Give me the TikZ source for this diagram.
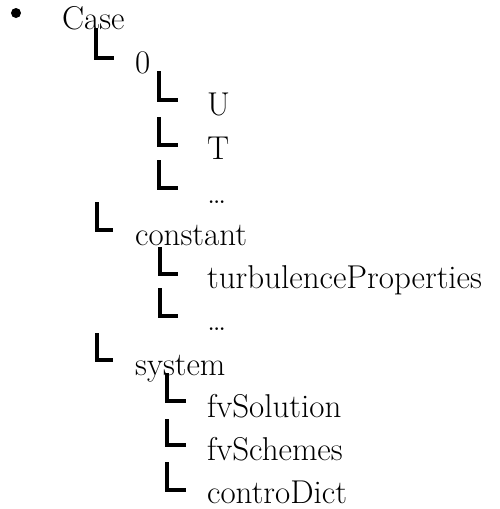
\documentclass[tikz,border=0pt]{standalone}
\usepackage{fontspec}
\tikzset{
  lbl/.style={anchor=base west, inner sep=0pt, font=\fontsize{33}{40}\selectfont},
  elbow/.style={line width=4pt, line join=miter},
}
% corner mark: left x, top y, right x, bottom y (all in pt, y downwards)
\newcommand\elbowmark[4]{\draw[elbow] ({#1+2},-#2) |- (#3,{-(#4-2)});}
\begin{document}
\begin{tikzpicture}[x=1pt,y=1pt]
  \useasboundingbox (0,0) rectangle (500,-509);
  \fill (16,-13) circle (5);
  \node[lbl] (case) at (62,-29) {Case};
  \node[lbl] (zero) at (135,-73) {0};
  \node[lbl] (u) at (207,-115) {U};
  \node[lbl] (t) at (207,-159) {T};
  \node[lbl] (dotsA) at (207,-203) {\ldots};
  \node[lbl] (constant) at (135,-245) {constant};
  \node[lbl] (turb) at (207,-288) {turbulenceProperties};
  \node[lbl] (dotsB) at (207,-330) {\ldots};
  \node[lbl] (system) at (135,-375) {system};
  \node[lbl] (fvsol) at (207,-417) {fvSolution};
  \node[lbl] (fvsch) at (207,-460) {fvSchemes};
  \node[lbl] (ctrl) at (207,-503) {controDict};
  \elbowmark{94}{28}{114}{60}
  \elbowmark{157}{71}{178}{102}
  \elbowmark{157}{117}{178}{147}
  \elbowmark{157}{160}{178}{190}
  \elbowmark{95}{202}{113}{232}
  \elbowmark{158}{247}{178}{276}
  \elbowmark{158}{288}{178}{318}
  \elbowmark{95}{333}{113}{362}
  \elbowmark{165}{373}{186}{403}
  \elbowmark{165}{419}{186}{447}
  \elbowmark{165}{462}{186}{492}
\end{tikzpicture}
\end{document}
